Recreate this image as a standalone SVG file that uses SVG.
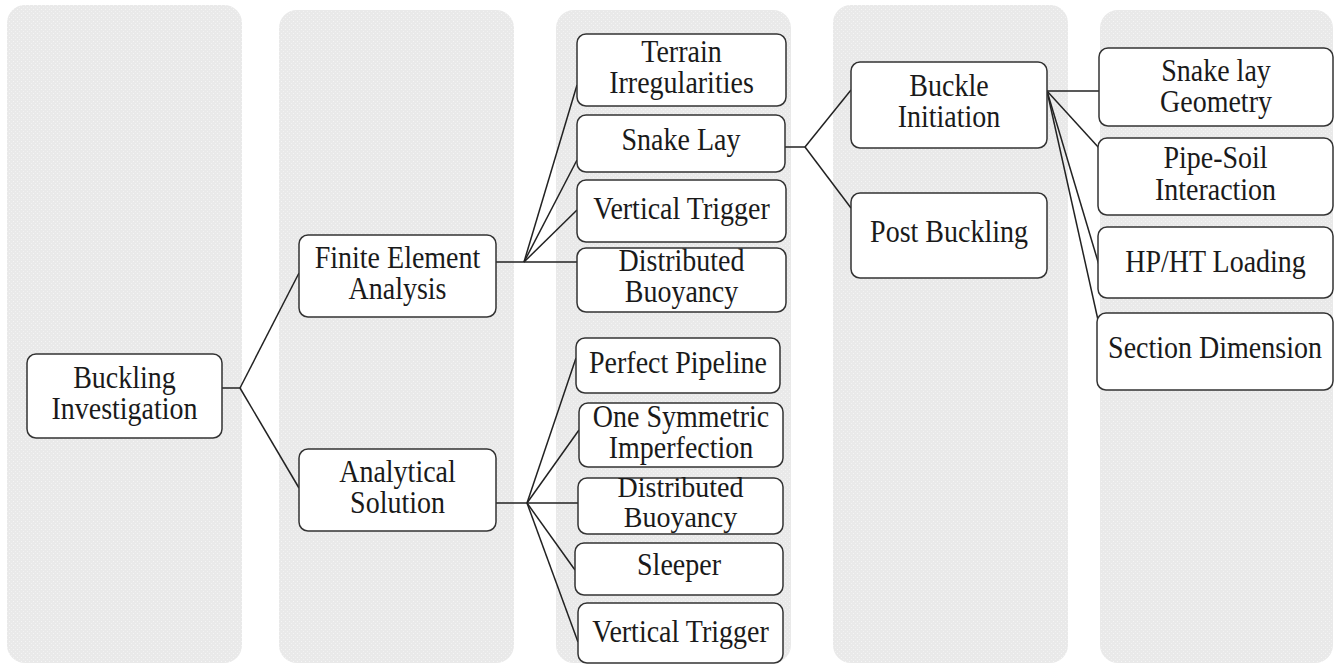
<svg xmlns="http://www.w3.org/2000/svg" width="1336" height="666" viewBox="0 0 1336 666">
<defs>
<pattern id="tex" width="4" height="4" patternUnits="userSpaceOnUse">
<rect width="4" height="4" fill="#e9e9e9"/>
<rect x="1" y="1" width="1" height="1" fill="#f5f5f5"/>
<rect x="3" y="3" width="1" height="1" fill="#f2f2f2"/>
</pattern>
<style>
.col{fill:url(#tex);}
.box{fill:#ffffff;stroke:#333333;stroke-width:1.5;}
.t{font-family:"Liberation Serif","Times New Roman",serif;font-size:28px;fill:#1a1a1a;text-anchor:middle;}
.ln{stroke:#222222;stroke-width:1.5;fill:none;}
</style>
</defs>
<rect width="1336" height="666" fill="#ffffff"/>
<g id="columns">
<rect class="col" x="7" y="5" width="235" height="658" rx="18"/>
<rect class="col" x="279" y="10" width="235" height="653" rx="18"/>
<rect class="col" x="556" y="10" width="235" height="653" rx="18"/>
<rect class="col" x="833" y="5" width="235" height="658" rx="18"/>
<rect class="col" x="1100" y="10" width="233" height="653" rx="18"/>
</g>
<g id="connectors">
<polyline class="ln" points="222,388 240,388"/>
<line class="ln" x1="240" y1="388" x2="299" y2="273"/>
<line class="ln" x1="240" y1="388" x2="299" y2="488"/>
<polyline class="ln" points="496,262 577,262"/>
<line class="ln" x1="524" y1="262" x2="577" y2="85"/>
<line class="ln" x1="524" y1="262" x2="577" y2="160"/>
<line class="ln" x1="524" y1="262" x2="577" y2="210"/>
<polyline class="ln" points="496,503 578,503"/>
<line class="ln" x1="527" y1="503" x2="576" y2="358"/>
<line class="ln" x1="527" y1="503" x2="579" y2="430"/>
<line class="ln" x1="527" y1="503" x2="575" y2="570"/>
<line class="ln" x1="527" y1="503" x2="578" y2="642"/>
<polyline class="ln" points="785,147 805,147"/>
<line class="ln" x1="805" y1="147" x2="851" y2="90"/>
<line class="ln" x1="805" y1="147" x2="851" y2="208"/>
<line class="ln" x1="1047" y1="91" x2="1099" y2="91"/>
<line class="ln" x1="1047" y1="91" x2="1099" y2="148"/>
<line class="ln" x1="1047" y1="91" x2="1099" y2="265"/>
<line class="ln" x1="1047" y1="91" x2="1098" y2="320"/>
</g>
<g id="n-buckling-investigation">
<rect class="box" x="27" y="354" width="195" height="84" rx="9"/>
<text class="t" transform="translate(124.5,388) scale(1,1.1)">Buckling</text>
<text class="t" transform="translate(124.5,419) scale(1,1.1)">Investigation</text>
</g>
<g id="n-fea">
<rect class="box" x="299" y="235" width="197" height="82" rx="9"/>
<text class="t" transform="translate(397.5,268) scale(1,1.1)">Finite Element</text>
<text class="t" transform="translate(397.5,299) scale(1,1.1)">Analysis</text>
</g>
<g id="n-analytical">
<rect class="box" x="299" y="449" width="197" height="82" rx="9"/>
<text class="t" transform="translate(397.5,482) scale(1,1.1)">Analytical</text>
<text class="t" transform="translate(397.5,513) scale(1,1.1)">Solution</text>
</g>
<g id="n-terrain">
<rect class="box" x="577" y="34" width="209" height="72" rx="9"/>
<text class="t" transform="translate(681.5,62) scale(1,1.1)">Terrain</text>
<text class="t" transform="translate(681.5,93) scale(1,1.1)">Irregularities</text>
</g>
<g id="n-snake-lay">
<rect class="box" x="577" y="115" width="208" height="57" rx="9"/>
<text class="t" transform="translate(681,150) scale(1,1.1)">Snake Lay</text>
</g>
<g id="n-vertical-trigger-1">
<rect class="box" x="577" y="180" width="209" height="62" rx="9"/>
<text class="t" transform="translate(681.5,219) scale(1,1.1)">Vertical Trigger</text>
</g>
<g id="n-distributed-1">
<rect class="box" x="577" y="248" width="209" height="64" rx="9"/>
<text class="t" transform="translate(681.5,271) scale(1,1.1)">Distributed</text>
<text class="t" transform="translate(681.5,302) scale(1,1.1)">Buoyancy</text>
</g>
<g id="n-perfect-pipeline">
<rect class="box" x="576" y="338" width="204" height="55" rx="9"/>
<text class="t" transform="translate(678,373) scale(1,1.1)">Perfect Pipeline</text>
</g>
<g id="n-one-symmetric">
<rect class="box" x="579" y="403" width="204" height="64" rx="9"/>
<text class="t" transform="translate(681,427) scale(1,1.1)">One Symmetric</text>
<text class="t" transform="translate(681,458) scale(1,1.1)">Imperfection</text>
</g>
<g id="n-distributed-2">
<rect class="box" x="578" y="478" width="205" height="56" rx="9"/>
<text class="t" transform="translate(680.5,497) scale(1,1.05)">Distributed</text>
<text class="t" transform="translate(680.5,527) scale(1,1.05)">Buoyancy</text>
</g>
<g id="n-sleeper">
<rect class="box" x="575" y="543" width="208" height="52" rx="9"/>
<text class="t" transform="translate(679,575) scale(1,1.1)">Sleeper</text>
</g>
<g id="n-vertical-trigger-2">
<rect class="box" x="578" y="603" width="205" height="60" rx="9"/>
<text class="t" transform="translate(680.5,642) scale(1,1.1)">Vertical Trigger</text>
</g>
<g id="n-buckle-initiation">
<rect class="box" x="851" y="62" width="196" height="86" rx="9"/>
<text class="t" transform="translate(949,96) scale(1,1.1)">Buckle</text>
<text class="t" transform="translate(949,127) scale(1,1.1)">Initiation</text>
</g>
<g id="n-post-buckling">
<rect class="box" x="851" y="193" width="196" height="85" rx="9"/>
<text class="t" transform="translate(949,242) scale(1,1.1)">Post Buckling</text>
</g>
<g id="n-snake-lay-geometry">
<rect class="box" x="1099" y="48" width="234" height="78" rx="9"/>
<text class="t" transform="translate(1216,81) scale(1,1.1)">Snake lay</text>
<text class="t" transform="translate(1216,112) scale(1,1.1)">Geometry</text>
</g>
<g id="n-pipe-soil">
<rect class="box" x="1098" y="138" width="235" height="77" rx="9"/>
<text class="t" transform="translate(1215.5,168) scale(1,1.1)">Pipe-Soil</text>
<text class="t" transform="translate(1215.5,200) scale(1,1.1)">Interaction</text>
</g>
<g id="n-hpht">
<rect class="box" x="1098" y="227" width="235" height="71" rx="9"/>
<text class="t" transform="translate(1215.5,272) scale(1,1.1)">HP/HT Loading</text>
</g>
<g id="n-section-dimension">
<rect class="box" x="1097" y="313" width="236" height="77" rx="9"/>
<text class="t" transform="translate(1215,358) scale(1,1.1)">Section Dimension</text>
</g>
</svg>
